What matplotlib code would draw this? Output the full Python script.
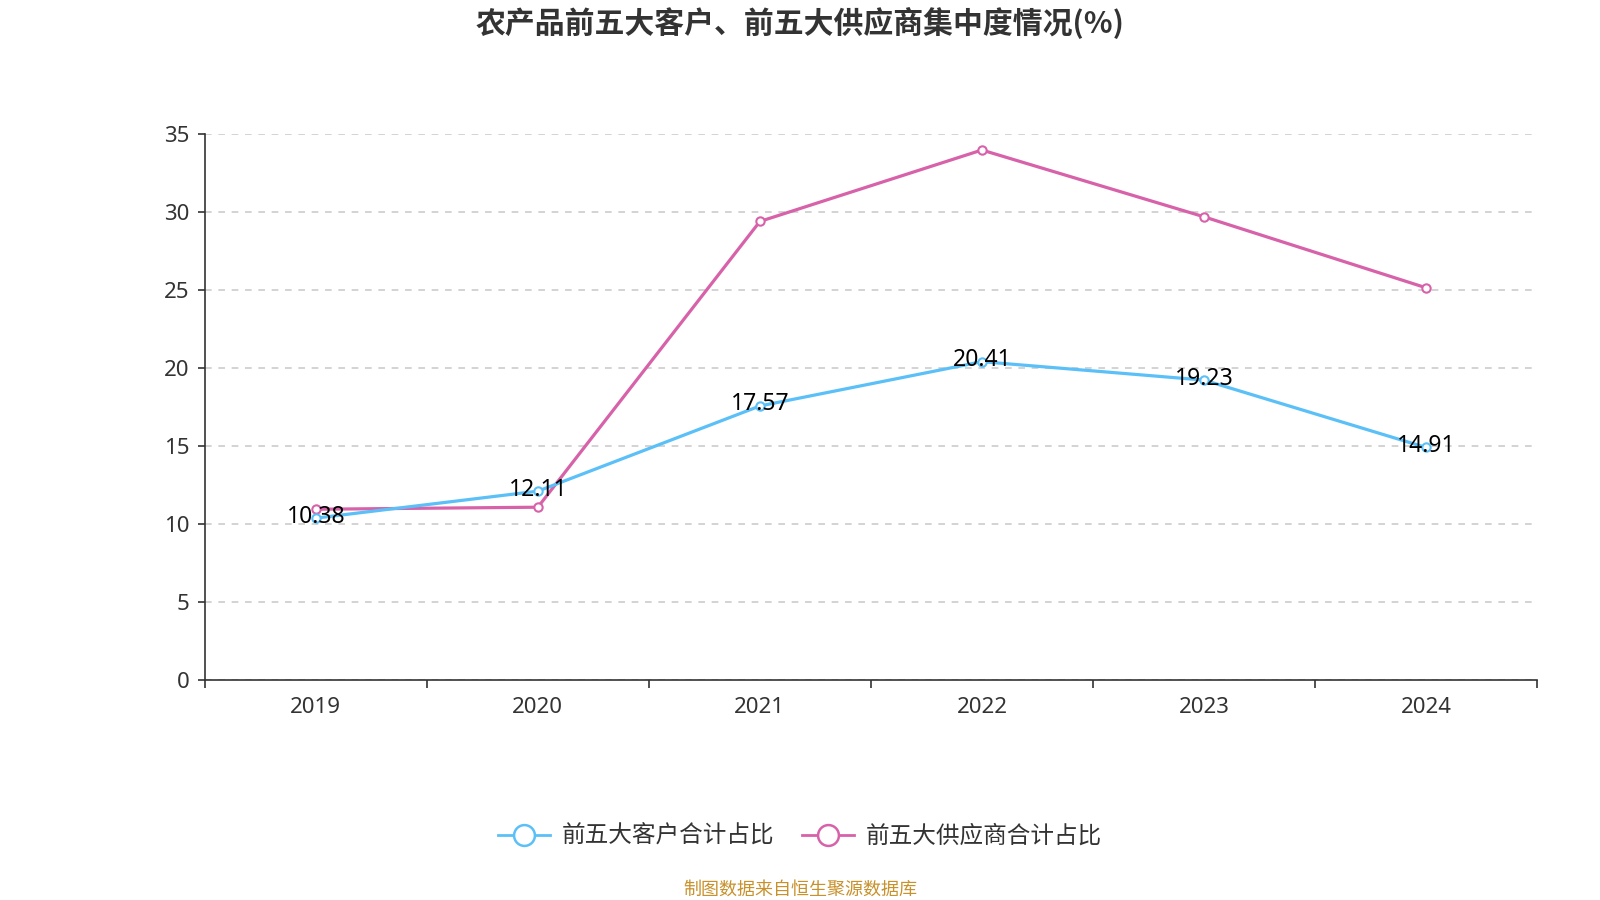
import matplotlib
matplotlib.use('Agg')
import matplotlib.pyplot as plt
from matplotlib.lines import Line2D

plt.rcParams['font.family'] = ['Noto Sans', 'Noto Sans CJK SC', 'DejaVu Sans']

# data
years = ['2019', '2020', '2021', '2022', '2023', '2024']
customers = [10.38, 12.11, 17.57, 20.41, 19.23, 14.91]
suppliers = [10.95, 11.08, 29.40, 33.98, 29.70, 25.15]
yticks = [0, 5, 10, 15, 20, 25, 30, 35]

blue = '#5bc0f8'
pink = '#d762a9'

fig = plt.figure(figsize=(16, 9), dpi=100)
ax = fig.add_axes([0.128, 0.2444, 0.8326, 0.6066])

x = list(range(len(years)))
ax.plot(x, suppliers, color=pink, lw=2.3, marker='o', ms=6,
        mfc='white', mec=pink, mew=1.5, zorder=3)
ax.plot(x, customers, color=blue, lw=2.3, marker='o', ms=6,
        mfc='white', mec=blue, mew=1.5, zorder=4)

for xi, v in zip(x, customers):
    ax.text(xi, v + 0.1, f'{v:.2f}', ha='center', va='center',
            fontsize=16.5, color='black', zorder=5)

ax.set_xlim(-0.5, len(years) - 0.5)
ax.set_ylim(0, 35)
ax.set_yticks(yticks)
ax.set_yticklabels([str(t) for t in yticks])
ax.yaxis.grid(True, linestyle=(0, (4, 4)), color='#cccccc', lw=1.2)
ax.set_axisbelow(True)

# category axis: ticks on the boundaries, labels in the middle
ax.set_xticks([i - 0.5 for i in range(len(years) + 1)])
ax.set_xticklabels([])
ax.set_xticks(x, minor=True)
ax.set_xticklabels(years, minor=True)
ax.tick_params(axis='x', which='major', length=6, width=1.2, color='#333333')
ax.tick_params(axis='x', which='minor', length=0, pad=12,
               labelsize=16, labelcolor='#333333')
ax.tick_params(axis='y', length=5, width=1.2, color='#333333',
               labelsize=16, labelcolor='#333333', pad=6)

for s in ['top', 'right']:
    ax.spines[s].set_visible(False)
for s in ['left', 'bottom']:
    ax.spines[s].set_color('#333333')
    ax.spines[s].set_linewidth(1.2)

fig.text(0.5, 0.974, '农产品前五大客户、前五大供应商集中度情况(%)', ha='center',
         va='center', fontsize=21.5, fontweight='bold', color='#333333',
         family=['Noto Sans CJK SC', 'DejaVu Sans'])

handles = [
    Line2D([0], [0], color=blue, lw=2, marker='o', ms=15, mfc='white',
           mec=blue, mew=1.8),
    Line2D([0], [0], color=pink, lw=2, marker='o', ms=15, mfc='white',
           mec=pink, mew=1.8),
]
fig.legend(handles, ['前五大客户合计占比', '前五大供应商合计占比'],
           loc='center', bbox_to_anchor=(0.5, 0.07), ncol=2, frameon=False,
           fontsize=17, labelcolor='#333333', handlelength=2.2,
           columnspacing=1.2, handletextpad=0.5)

fig.text(0.5, 0.011, '制图数据来自恒生聚源数据库', ha='center', va='center',
         fontsize=13, color='#c8912b')

fig.savefig('out.png', dpi=100)
